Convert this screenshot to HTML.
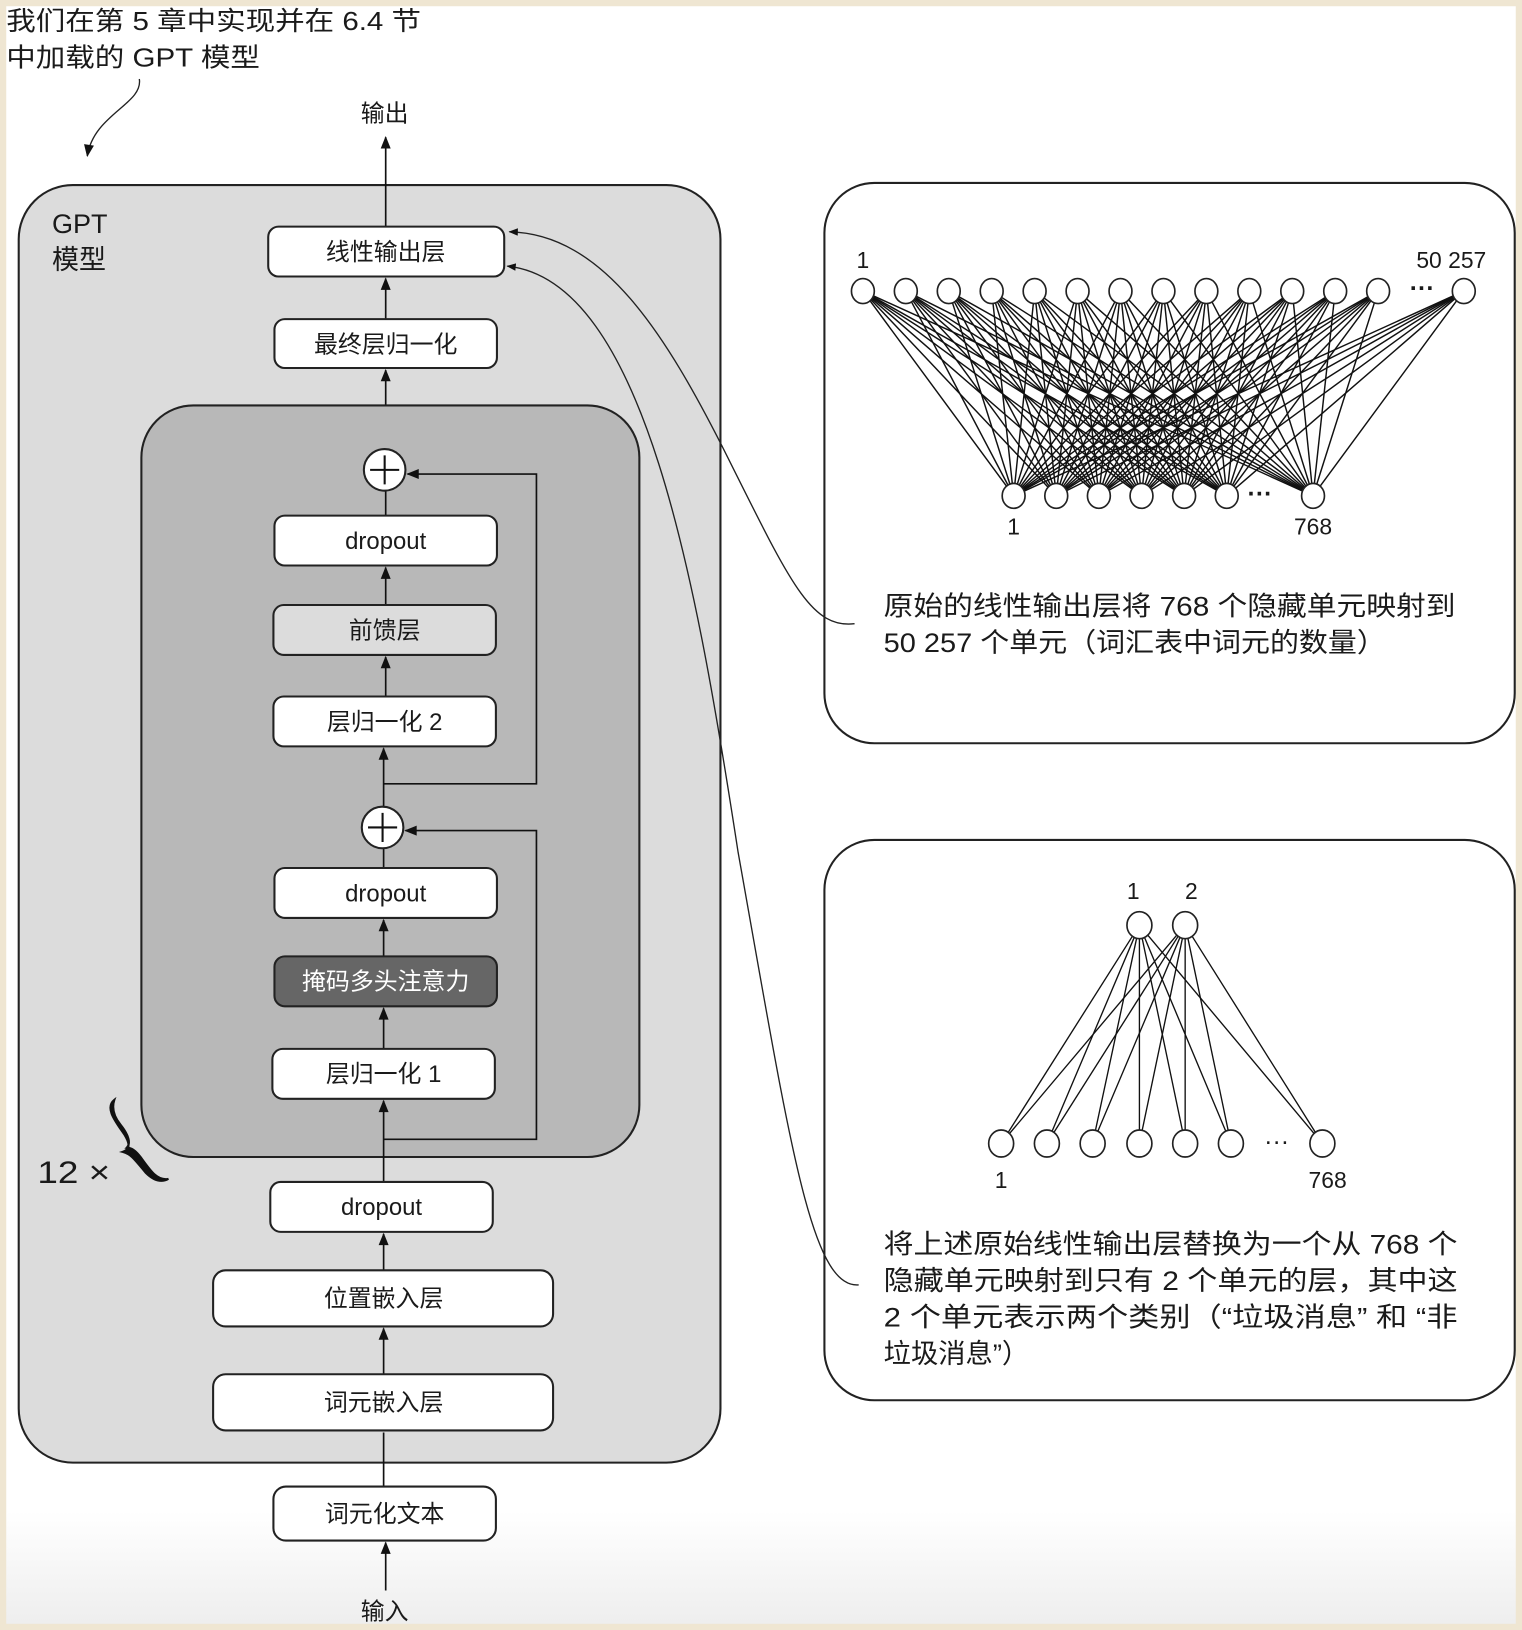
<!DOCTYPE html>
<html><head><meta charset="utf-8"><style>
html,body{margin:0;padding:0;background:#efe6d2;}
svg{display:block;}
text{font-family:"Liberation Sans","Noto Sans CJK SC",sans-serif;fill:#1a1a1a;}
</style></head><body>
<svg width="1522" height="1630" viewBox="0 0 1464 1568" preserveAspectRatio="none" xmlns="http://www.w3.org/2000/svg">
<defs>
<linearGradient id="bg" x1="0" y1="0" x2="0" y2="1">
<stop offset="0" stop-color="#fff"/><stop offset="0.93" stop-color="#fff"/><stop offset="1" stop-color="#eeeeee"/>
</linearGradient>
<marker id="ah" viewBox="0 0 10 10" refX="9" refY="5" markerWidth="9" markerHeight="9" markerUnits="userSpaceOnUse" orient="auto">
<path d="M0,1 L10,5 L0,9 Z" fill="#111"/></marker>
<marker id="ab" viewBox="0 0 10 10" refX="9" refY="5" markerWidth="14" markerHeight="12" markerUnits="userSpaceOnUse" orient="auto">
<path d="M0,1 L10,5 L0,9 Z" fill="#111"/></marker>
</defs>
<rect x="0" y="0" width="1464" height="1568" fill="#efe6d2"/>
<rect x="6" y="6" width="1452" height="1556" fill="url(#bg)"/>

<text x="6" y="29" font-size="25" textLength="399" lengthAdjust="spacingAndGlyphs">我们在第 5 章中实现并在 6.4 节</text>
<text x="6" y="64" font-size="25" textLength="244" lengthAdjust="spacingAndGlyphs">中加载的 GPT 模型</text>
<path d="M134,76 C138,100 90,110 84,150" fill="none" stroke="#222" stroke-width="1.3" marker-end="url(#ab)"/>

<rect x="18" y="178" width="675" height="1229" rx="52" fill="#dcdcdc" stroke="#222" stroke-width="2"/>
<text x="50" y="224" font-size="26">GPT</text>
<text x="50" y="259" font-size="26">模型</text>

<g stroke="#111" stroke-width="1.6" fill="none">
<line x1="371" y1="218" x2="371" y2="132" marker-end="url(#ab)"/>
<line x1="371" y1="307" x2="371" y2="268" marker-end="url(#ab)"/>
<line x1="371" y1="432" x2="371" y2="356" marker-end="url(#ab)"/>
</g>

<rect x="258" y="218" width="227" height="48" rx="10" fill="#fff" stroke="#222" stroke-width="2"/>
<text x="371" y="250" font-size="23" text-anchor="middle">线性输出层</text>
<rect x="264" y="307" width="214" height="47" rx="10" fill="#fff" stroke="#222" stroke-width="2"/>
<text x="371" y="339" font-size="23" text-anchor="middle">最终层归一化</text>

<rect x="136" y="390" width="479" height="723" rx="50" fill="#b8b8b8" stroke="#222" stroke-width="2"/>
<g stroke="#111" stroke-width="1.6" fill="none">
<line x1="371" y1="496" x2="371" y2="472"/>
<line x1="371" y1="582" x2="371" y2="546" marker-end="url(#ab)"/>
<line x1="371" y1="670" x2="371" y2="632" marker-end="url(#ab)"/>
<line x1="369" y1="776" x2="369" y2="720" marker-end="url(#ab)"/>
<polyline points="369,754 516,754 516,456 392,456" marker-end="url(#ab)"/>
<line x1="369" y1="835" x2="369" y2="816"/>
<line x1="369" y1="920" x2="369" y2="885" marker-end="url(#ab)"/>
<line x1="369" y1="1009" x2="369" y2="970" marker-end="url(#ab)"/>
<line x1="369" y1="1137" x2="369" y2="1059" marker-end="url(#ab)"/>
<polyline points="369,1096 516,1096 516,799 390,799" marker-end="url(#ab)"/>
<line x1="369" y1="1222" x2="369" y2="1187" marker-end="url(#ab)"/>
<line x1="369" y1="1322" x2="369" y2="1278" marker-end="url(#ab)"/>
<line x1="369" y1="1430" x2="369" y2="1378"/>
<line x1="371" y1="1530" x2="371" y2="1484" marker-end="url(#ab)"/>
</g>
<circle cx="370" cy="452" r="20" fill="#fff" stroke="#222" stroke-width="2"/>
<path d="M356,452 H384 M370,438 V466" stroke="#111" stroke-width="2"/>
<circle cx="368" cy="796" r="20" fill="#fff" stroke="#222" stroke-width="2"/>
<path d="M354,796 H382 M368,782 V810" stroke="#111" stroke-width="2"/>

<rect x="264" y="496" width="214" height="48" rx="10" fill="#fff" stroke="#222" stroke-width="2"/>
<text x="371" y="528" font-size="23" text-anchor="middle">dropout</text>
<rect x="263" y="582" width="214" height="48" rx="10" fill="#dcdcdc" stroke="#222" stroke-width="2"/>
<text x="370" y="614" font-size="23" text-anchor="middle">前馈层</text>
<rect x="263" y="670" width="214" height="48" rx="10" fill="#fff" stroke="#222" stroke-width="2"/>
<text x="370" y="702" font-size="23" text-anchor="middle">层归一化 2</text>
<rect x="264" y="835" width="214" height="48" rx="10" fill="#fff" stroke="#222" stroke-width="2"/>
<text x="371" y="867" font-size="23" text-anchor="middle">dropout</text>
<rect x="264" y="920" width="214" height="48" rx="10" fill="#666" stroke="#222" stroke-width="2"/>
<text x="371" y="952" font-size="23" text-anchor="middle" style="fill:#fff">掩码多头注意力</text>
<rect x="262" y="1009" width="214" height="48" rx="10" fill="#fff" stroke="#222" stroke-width="2"/>
<text x="369" y="1041" font-size="23" text-anchor="middle">层归一化 1</text>

<text x="36" y="1138" font-size="30" textLength="70" lengthAdjust="spacingAndGlyphs">12 ×</text>
<path d="M110,1058 C100,1066 112,1080 120,1092 C126,1102 124,1106 118,1108 C126,1110 130,1116 140,1128 C148,1136 155,1138 162,1134 C152,1136 146,1128 136,1114 C130,1106 126,1104 122,1104 C126,1100 124,1092 116,1082 C108,1072 108,1064 110,1058 Z" fill="#111" stroke="#111" stroke-width="2"/>

<rect x="260" y="1137" width="214" height="48" rx="10" fill="#fff" stroke="#222" stroke-width="2"/>
<text x="367" y="1169" font-size="23" text-anchor="middle">dropout</text>
<rect x="205" y="1222" width="327" height="54" rx="12" fill="#fff" stroke="#222" stroke-width="2"/>
<text x="369" y="1257" font-size="23" text-anchor="middle">位置嵌入层</text>
<rect x="205" y="1322" width="327" height="54" rx="12" fill="#fff" stroke="#222" stroke-width="2"/>
<text x="369" y="1357" font-size="23" text-anchor="middle">词元嵌入层</text>
<rect x="263" y="1430" width="214" height="52" rx="12" fill="#fff" stroke="#222" stroke-width="2"/>
<text x="370" y="1464" font-size="23" text-anchor="middle">词元化文本</text>
<text x="370" y="1558" font-size="23" text-anchor="middle">输入</text>
<text x="370" y="117" font-size="23" text-anchor="middle">输出</text>

<rect x="793" y="176" width="664" height="539" rx="48" fill="#fff" stroke="#222" stroke-width="2"/>
<g id="net1" stroke="#111" stroke-width="1.4"></g>
<text x="830" y="258" font-size="22" text-anchor="middle">1</text>
<text x="1396" y="258" font-size="22" text-anchor="middle">50 257</text>
<text x="1368" y="285" font-size="24" font-weight="bold" text-anchor="middle">···</text>
<text x="1212" y="483" font-size="24" font-weight="bold" text-anchor="middle">···</text>
<text x="975" y="514" font-size="22" text-anchor="middle">1</text>
<text x="1263" y="514" font-size="22" text-anchor="middle">768</text>
<text x="850" y="592" font-size="26" textLength="550" lengthAdjust="spacingAndGlyphs">原始的线性输出层将 768 个隐藏单元映射到</text>
<text x="850" y="627" font-size="26" textLength="483" lengthAdjust="spacingAndGlyphs">50 257 个单元（词汇表中词元的数量）</text>

<rect x="793" y="808" width="664" height="539" rx="48" fill="#fff" stroke="#222" stroke-width="2"/>
<g id="net2" stroke="#111" stroke-width="1.3"></g>
<text x="1090" y="865" font-size="22" text-anchor="middle">1</text>
<text x="1146" y="865" font-size="22" text-anchor="middle">2</text>
<text x="1228" y="1106" font-size="24" text-anchor="middle">···</text>
<text x="963" y="1143" font-size="22" text-anchor="middle">1</text>
<text x="1277" y="1143" font-size="22" text-anchor="middle">768</text>
<text x="850" y="1206" font-size="26" textLength="552" lengthAdjust="spacingAndGlyphs">将上述原始线性输出层替换为一个从 768 个</text>
<text x="850" y="1241" font-size="26" textLength="552" lengthAdjust="spacingAndGlyphs">隐藏单元映射到只有 2 个单元的层，其中这</text>
<text x="850" y="1276" font-size="26" textLength="552" lengthAdjust="spacingAndGlyphs">2 个单元表示两个类别（“垃圾消息” 和 “非</text>
<text x="850" y="1311" font-size="26" textLength="140" lengthAdjust="spacingAndGlyphs">垃圾消息”）</text>

<g stroke="#222" stroke-width="1.3" fill="none">
<path d="M822,600 C780,605 760,560 700,440 C640,320 580,225 490,223" marker-end="url(#ah)"/>
<path d="M826,1236 C780,1240 760,1100 710,820 C670,560 620,270 488,256" marker-end="url(#ah)"/>
</g>

<g id="nodes"></g>
<script>
(function(){
var NS="http://www.w3.org/2000/svg";
function el(p,t,a){var e=document.createElementNS(NS,t);for(var k in a)e.setAttribute(k,a[k]);p.appendChild(e);return e;}
var n1=document.getElementById('net1'),n2=document.getElementById('net2'),nd=document.getElementById('nodes');
var top1=[];for(var i=0;i<13;i++)top1.push(830+i*41.3);top1.push(1408);
var bot1=[975,1016,1057,1098,1139,1180,1263];
top1.forEach(function(x){bot1.forEach(function(b){el(n1,'line',{x1:x,y1:280,x2:b,y2:477});});});
var top2=[1096,1140],bot2=[963,1007,1051,1096,1140,1184,1272];
top2.forEach(function(x){bot2.forEach(function(b){el(n2,'line',{x1:x,y1:890,x2:b,y2:1100});});});
top1.forEach(function(x){el(nd,'ellipse',{cx:x,cy:280,rx:11,ry:12,fill:'#fff',stroke:'#222','stroke-width':1.6});});
bot1.forEach(function(x){el(nd,'ellipse',{cx:x,cy:477,rx:11,ry:12,fill:'#fff',stroke:'#222','stroke-width':1.6});});
top2.forEach(function(x){el(nd,'ellipse',{cx:x,cy:890,rx:12,ry:13,fill:'#fff',stroke:'#222','stroke-width':1.6});});
bot2.forEach(function(x){el(nd,'ellipse',{cx:x,cy:1100,rx:12,ry:13,fill:'#fff',stroke:'#222','stroke-width':1.6});});
})();
</script>
</svg>
</body></html>
